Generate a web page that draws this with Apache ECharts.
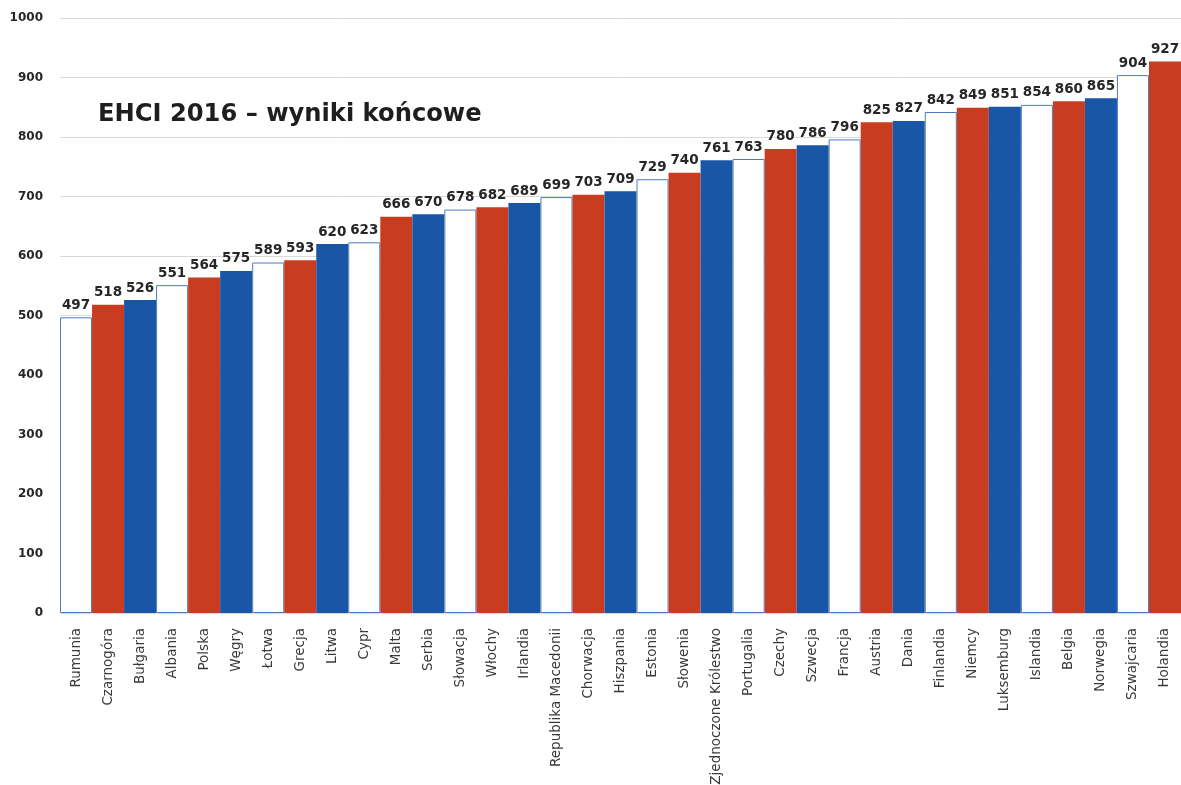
<!DOCTYPE html>
<html>
<head>
<meta charset="utf-8">
<script src="https://cdn.jsdelivr.net/npm/echarts@6/dist/echarts.min.js"></script>
<style>
html,body{margin:0;padding:0;background:#fff;}
#chart{width:1181px;height:785px;}
</style>
</head>
<body>
<div id="chart"></div>
<script>
const categories = ["Rumunia","Czarnogóra","Bułgaria","Albania","Polska","Węgry","Łotwa","Grecja","Litwa","Cypr","Malta","Serbia","Słowacja","Włochy","Irlandia","Republika Macedonii","Chorwacja","Hiszpania","Estonia","Słowenia","Zjednoczone Królestwo","Portugalia","Czechy","Szwecja","Francja","Austria","Dania","Finlandia","Niemcy","Luksemburg","Islandia","Belgia","Norwegia","Szwajcaria","Holandia"];
const scores = [497,518,526,551,564,575,589,593,620,623,666,670,678,682,689,699,703,709,729,740,761,763,780,786,796,825,827,842,849,851,854,860,865,904,927];
const yTicks = [0,100,200,300,400,500,600,700,800,900,1000];
const titleText = "EHCI 2016 – wyniki końcowe";
const palette = ["#ffffff","#c83c20","#1a56a6"];

const chart = echarts.init(document.getElementById('chart'));
const data = scores.map((v,i)=>{
  const c = palette[i % 3];
  return {
    value: v,
    itemStyle: c === "#ffffff"
      ? {color: c, borderColor: "#4a7cc6", borderWidth: 1}
      : {color: c, borderWidth: 0}
  };
});
chart.setOption({
  animation: false,
  backgroundColor: "#fff",
  title: {
    text: titleText,
    left: 93, top: 98,
    textStyle: {fontFamily: "DejaVu Sans", fontWeight: "bold", fontSize: 24.2, color: "#1e1e1e"}
  },
  grid: {left: 60, right: 0, top: 18, bottom: 172, containLabel: false, outerBoundsMode: "none"},
  xAxis: {
    type: "category",
    data: categories,
    axisTick: {show: false},
    axisLine: {lineStyle: {color: "#d9d9d9", width: 1}},
    axisLabel: {rotate: 90, interval: 0, margin: 15, fontFamily: "DejaVu Sans", fontSize: 13.5, color: "#3a3a3a"}
  },
  yAxis: {
    type: "value",
    min: yTicks[0], max: yTicks[yTicks.length-1], interval: 100,
    splitLine: {lineStyle: {color: "#d9d9d9", width: 1}},
    axisLine: {show: false},
    axisTick: {show: false},
    axisLabel: {margin: 17, fontFamily: "DejaVu Sans", fontWeight: "bold", fontSize: 12, color: "#262626",
      formatter: v => String(v)}
  },
  series: [{
    type: "bar",
    data: data,
    barCategoryGap: "0%",
    label: {show: true, position: "top", distance: 5, fontFamily: "DejaVu Sans", fontWeight: "bold", fontSize: 13.5, color: "#262626"}
  }]
});
</script>
</body>
</html>
